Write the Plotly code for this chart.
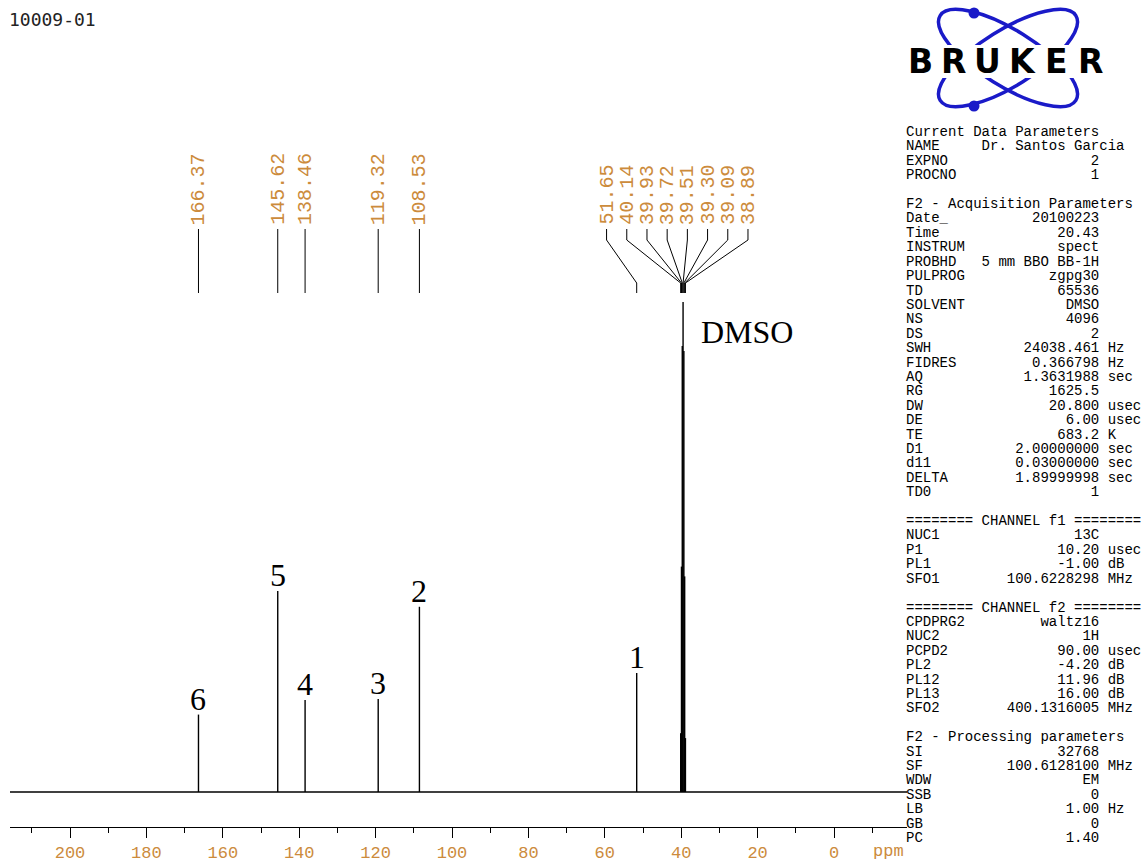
import math
import plotly.graph_objects as go

# ---------------------------------------------------------------- data
PEAK_PPM = [166.37, 145.62, 138.46, 119.32, 108.53, 51.65,
            40.14, 39.93, 39.72, 39.51, 39.30, 39.09, 38.89]
PEAK_INTENSITY = [15.8, 41.0, 18.8, 19.0, 37.8, 24.3,
                  12.0, 46.0, 91.0, 100.0, 90.0, 44.0, 11.0]

ASSIGN_TEXT = ["6", "5", "4", "3", "2", "1"]
ASSIGN_PPM = [166.37, 145.62, 138.46, 119.32, 108.53, 51.65]
SOLVENT_TEXT = "DMSO"
SOLVENT_PPM = 39.51

TICK_VALUES = [200, 180, 160, 140, 120, 100, 80, 60, 40, 20, 0]
TICK_LABELS = ["200", "180", "160", "140", "120", "100", "80", "60", "40", "20", "0"]

SPECTRUM_NAME = "10009-01"

PARAM_LINES = [
    ("head", "Current Data Parameters"),
    ("row", ("NAME", "Dr. Santos Garcia", "")),
    ("row", ("EXPNO", "2", "")),
    ("row", ("PROCNO", "1", "")),
    ("blank", ""),
    ("head", "F2 - Acquisition Parameters"),
    ("row", ("Date_", "20100223", "")),
    ("row", ("Time", "20.43", "")),
    ("row", ("INSTRUM", "spect", "")),
    ("row", ("PROBHD", "5 mm BBO BB-1H", "")),
    ("row", ("PULPROG", "zgpg30", "")),
    ("row", ("TD", "65536", "")),
    ("row", ("SOLVENT", "DMSO", "")),
    ("row", ("NS", "4096", "")),
    ("row", ("DS", "2", "")),
    ("row", ("SWH", "24038.461", "Hz")),
    ("row", ("FIDRES", "0.366798", "Hz")),
    ("row", ("AQ", "1.3631988", "sec")),
    ("row", ("RG", "1625.5", "")),
    ("row", ("DW", "20.800", "usec")),
    ("row", ("DE", "6.00", "usec")),
    ("row", ("TE", "683.2", "K")),
    ("row", ("D1", "2.00000000", "sec")),
    ("row", ("d11", "0.03000000", "sec")),
    ("row", ("DELTA", "1.89999998", "sec")),
    ("row", ("TD0", "1", "")),
    ("blank", ""),
    ("head", "======== CHANNEL f1 ========"),
    ("row", ("NUC1", "13C", "")),
    ("row", ("P1", "10.20", "usec")),
    ("row", ("PL1", "-1.00", "dB")),
    ("row", ("SFO1", "100.6228298", "MHz")),
    ("blank", ""),
    ("head", "======== CHANNEL f2 ========"),
    ("row", ("CPDPRG2", "waltz16", "")),
    ("row", ("NUC2", "1H", "")),
    ("row", ("PCPD2", "90.00", "usec")),
    ("row", ("PL2", "-4.20", "dB")),
    ("row", ("PL12", "11.96", "dB")),
    ("row", ("PL13", "16.00", "dB")),
    ("row", ("SFO2", "400.1316005", "MHz")),
    ("blank", ""),
    ("head", "F2 - Processing parameters"),
    ("row", ("SI", "32768", "")),
    ("row", ("SF", "100.6128100", "MHz")),
    ("row", ("WDW", "EM", "")),
    ("row", ("SSB", "0", "")),
    ("row", ("LB", "1.00", "Hz")),
    ("row", ("GB", "0", "")),
    ("row", ("PC", "1.40", "")),
]

# ---------------------------------------------------------------- layout constants
W, H = 1145, 863
ML, MR, MT, MB = 10, 238, 0, 36
PW, PH = W - ML - MR, H - MT - MB
X_LEFT, X_RIGHT = 215.71, -19.11          # ppm at the plot edges
PX_PER_PPM = PW / (X_LEFT - X_RIGHT)
Y_MIN, Y_MAX = -7.143, 161.63
ORANGE = "#cc8b3c"
MONO = "Liberation Mono"
SERIF = "Liberation Serif"


def paper_x(px):
    return (px - ML) / PW


def paper_y(py):
    return 1 - (py - MT) / PH


def ppm_to_px(ppm):
    return ML + (X_LEFT - ppm) * PX_PER_PPM


def intensity_to_py(v):
    return MT + PH * (Y_MAX - v) / (Y_MAX - Y_MIN)


fig = go.Figure()

# ---------------------------------------------------------------- spectrum
fig.add_trace(go.Scatter(
    x=[X_LEFT, X_RIGHT], y=[0, 0], mode="lines",
    line=dict(color="black", width=1.6), hoverinfo="skip", showlegend=False))

sx, sy = [], []
for p, h in zip(PEAK_PPM, PEAK_INTENSITY):
    sx += [p, p, None]
    sy += [0, h, None]
fig.add_trace(go.Scatter(
    x=sx, y=sy, mode="lines", line=dict(color="black", width=1.4),
    hoverinfo="skip", showlegend=False))

# ---------------------------------------------------------------- peak labels (spread to avoid overlap)
LABEL_PITCH = 20.2 / PX_PER_PPM          # minimum spacing between labels, ppm
order = sorted(range(len(PEAK_PPM)), key=lambda i: -PEAK_PPM[i])
groups = [[i] for i in order]


def group_positions(g):
    c = sum(PEAK_PPM[i] for i in g) / len(g)
    n = len(g)
    return [c + ((n - 1) / 2 - k) * LABEL_PITCH for k in range(n)]


changed = True
while changed:
    changed = False
    for gi in range(len(groups) - 1):
        a = group_positions(groups[gi])
        b = group_positions(groups[gi + 1])
        if a[-1] - b[0] < LABEL_PITCH - 1e-9:
            groups[gi] = groups[gi] + groups[gi + 1]
            del groups[gi + 1]
            changed = True
            break

label_x = {}
for g in groups:
    for i, lx in zip(g, group_positions(g)):
        label_x[i] = lx

Y_TEXT_BOTTOM, Y_KNEE1, Y_KNEE2, Y_END = 229, 240, 283, 293
shapes = []
annotations = []
line_style = dict(color="black", width=1)
for i, p in enumerate(PEAK_PPM):
    lx = label_x[i]
    segs = [((lx, Y_TEXT_BOTTOM), (lx, Y_KNEE1)),
            ((lx, Y_KNEE1), (p, Y_KNEE2)),
            ((p, Y_KNEE2), (p, Y_END))]
    for (x0, y0), (x1, y1) in segs:
        shapes.append(dict(type="line", xref="x", yref="paper",
                           x0=x0, x1=x1, y0=paper_y(y0), y1=paper_y(y1),
                           line=line_style))
    annotations.append(dict(
        text=f"{p:.2f}", x=lx, y=paper_y(Y_TEXT_BOTTOM - 4), xref="x", yref="paper",
        xanchor="center", yanchor="bottom", textangle=-90, showarrow=False,
        borderpad=0, borderwidth=0,
        font=dict(family=MONO, size=20, color=ORANGE)))

# ---------------------------------------------------------------- assignment numbers
for t, p in zip(ASSIGN_TEXT, ASSIGN_PPM):
    h = PEAK_INTENSITY[PEAK_PPM.index(p)]
    annotations.append(dict(
        text=t, x=p, y=paper_y(intensity_to_py(h) - 16), xref="x", yref="paper",
        xanchor="center", yanchor="middle", showarrow=False,
        font=dict(family=SERIF, size=32, color="black")))

h_solv = PEAK_INTENSITY[PEAK_PPM.index(SOLVENT_PPM)]
annotations.append(dict(
    text=SOLVENT_TEXT, x=paper_x(ppm_to_px(SOLVENT_PPM) + 64),
    y=paper_y(intensity_to_py(h_solv) + 30), xref="paper", yref="paper",
    xanchor="center", yanchor="middle", showarrow=False,
    font=dict(family=SERIF, size=32, color="black")))

# ---------------------------------------------------------------- axis unit
annotations.append(dict(
    text="ppm", x=paper_x(888), y=paper_y(851), xref="paper", yref="paper",
    xanchor="center", yanchor="middle", showarrow=False,
    font=dict(family=MONO, size=17, color=ORANGE)))

# ---------------------------------------------------------------- title
annotations.append(dict(
    text=SPECTRUM_NAME, x=paper_x(9), y=paper_y(19), xref="paper", yref="paper",
    xanchor="left", yanchor="middle", showarrow=False, borderpad=0, borderwidth=0,
    font=dict(family="DejaVu Sans Mono", size=18, color="#222222")))

# ---------------------------------------------------------------- parameter panel
NB = "\u00a0"
PANEL_X, PANEL_Y0, PANEL_PITCH = 906, 132, 14.41
for k, (kind, content) in enumerate(PARAM_LINES):
    if kind == "blank":
        continue
    if kind == "head":
        s = content
    else:
        name, val, unit = content
        s = f"{name:<9}{val:>14}" + (f" {unit}" if unit else "")
    annotations.append(dict(
        text=s.replace(" ", NB), x=paper_x(PANEL_X), y=paper_y(PANEL_Y0 + k * PANEL_PITCH),
        xref="paper", yref="paper", xanchor="left", yanchor="middle",
        showarrow=False, borderpad=0, borderwidth=0,
        font=dict(family=MONO, size=14, color="black")))

# ---------------------------------------------------------------- logo
LOGO_BLUE = "#1a1ac8"


def ellipse_path(cx, cy, a, b, ang_deg):
    t = math.radians(ang_deg)
    ct, st = math.cos(t), math.sin(t)
    kappa = 0.5522847

    def pt(u, v):
        return (cx + u * ct - v * st, cy + u * st + v * ct)

    pts = [pt(a, 0), pt(a, kappa * b), pt(kappa * a, b), pt(0, b),
           pt(-kappa * a, b), pt(-a, kappa * b), pt(-a, 0),
           pt(-a, -kappa * b), pt(-kappa * a, -b), pt(0, -b),
           pt(kappa * a, -b), pt(a, -kappa * b), pt(a, 0)]
    P = [(paper_x(x), paper_y(y)) for x, y in pts]
    d = f"M {P[0][0]},{P[0][1]}"
    for j in range(1, 13, 3):
        d += (f" C {P[j][0]},{P[j][1]} {P[j+1][0]},{P[j+1][1]}"
              f" {P[j+2][0]},{P[j+2][1]}")
    return d + " Z"


for ang in (32, -32):
    shapes.append(dict(type="path", xref="paper", yref="paper",
                       path=ellipse_path(1008, 58, 80, 28, ang),
                       line=dict(color=LOGO_BLUE, width=3.5), layer="above"))
for cx, cy in ((974, 13), (974, 106)):
    r = 5.5
    shapes.append(dict(type="circle", xref="paper", yref="paper",
                       x0=paper_x(cx - r), x1=paper_x(cx + r),
                       y0=paper_y(cy + r), y1=paper_y(cy - r),
                       fillcolor=LOGO_BLUE, line=dict(width=0), layer="above"))
shapes.append(dict(type="rect", xref="paper", yref="paper",
                   x0=paper_x(904), x1=paper_x(1112), y0=paper_y(78), y1=paper_y(45),
                   fillcolor="white", line=dict(width=0), layer="above"))
for ch, cx in zip("BRUKER", (921, 954, 987, 1022, 1056, 1090)):
    annotations.append(dict(
        text=f"<b>{ch}</b>", x=paper_x(cx), y=paper_y(62), xref="paper", yref="paper",
        xanchor="center", yanchor="middle", showarrow=False,
        font=dict(family="DejaVu Sans", size=33, color="black")))

# ---------------------------------------------------------------- axes
fig.update_layout(
    width=W, height=H,
    margin=dict(l=ML, r=MR, t=MT, b=MB, autoexpand=False),
    paper_bgcolor="white", plot_bgcolor="white",
    showlegend=False,
    shapes=shapes, annotations=annotations,
    xaxis=dict(
        range=[X_LEFT, X_RIGHT], showgrid=False, zeroline=False,
        showline=True, linecolor="black", linewidth=1,
        ticks="outside", ticklen=10, tickwidth=1, tickcolor="black",
        tickvals=TICK_VALUES, ticktext=TICK_LABELS,
        tickfont=dict(family=MONO, size=17, color=ORANGE),
        minor=dict(dtick=10, tick0=0, ticks="outside", ticklen=5,
                   tickwidth=1, tickcolor="black"),
        fixedrange=True),
    yaxis=dict(range=[Y_MIN, Y_MAX], visible=False, fixedrange=True),
)

fig.write_html("out.html")
